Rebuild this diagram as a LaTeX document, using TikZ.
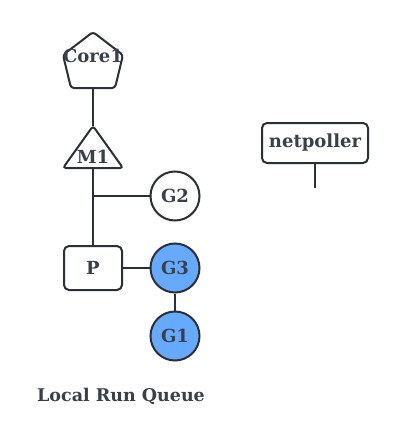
\documentclass[tikz,border=0pt]{standalone}
\usepackage{fontspec}
\setmainfont{DejaVu Serif}
\usetikzlibrary{positioning}
\definecolor{ink}{HTML}{2B2F36}
\definecolor{txt}{HTML}{3A404A}
\definecolor{gblue}{HTML}{66AAFF}
\tikzset{lblfont/.style={font=\bfseries\fontsize{18}{20}\selectfont}}
\begin{document}
\begin{tikzpicture}[x=1pt,y=-1pt,
  line/.style={draw=ink,line width=2pt},
  lbl/.style={text=txt,lblfont,inner sep=0pt},
  gor/.style={circle,draw=ink,line width=2pt,minimum size=49pt,inner sep=0pt,text=txt,lblfont},
  box/.style={rectangle,rounded corners=5pt,draw=ink,line width=2pt,text=txt,lblfont,inner sep=0pt}]
\useasboundingbox (0,0) rectangle (401,437);
\fill[white] (0,0) rectangle (401,437);
% pentagon Core1
\draw[line,rounded corners=3pt,fill=white] (93,32) -- (123,55) -- (115,88) -- (71,88) -- (63,55) -- cycle;
\node[lbl] (core) at (93,56) {Core1};
\coordinate (coreb) at (93,88);
% triangle M1
\draw[line,rounded corners=3pt,fill=white] (93,126) -- (123,168) -- (63,168) -- cycle;
\node[lbl] (m1) at (93,157) {M1};
\coordinate (m1t) at (93,126);
\coordinate (m1b) at (93,168);
\coordinate (jn) at (93,196);
\node[gor,fill=white] (g2) at (175,196) {G2};
\node[box,minimum width=58pt,minimum height=44pt] (p) at (93,268) {P};
\node[gor,fill=gblue] (g3) at (175,268) {G3};
\node[gor,fill=gblue] (g1) at (175,336) {G1};
\node[box,minimum width=106pt,minimum height=40pt] (np) at (315,143) {netpoller};
\coordinate (npe) at (315,188);
\node[lbl,font=\bfseries\fontsize{17.5}{20}\selectfont] (lrq) at (121,396) {Local Run Queue};
\draw[line] (coreb) -- (m1t);
\draw[line] (m1b) -- (p.north);
\draw[line] (jn) -- (g2.west);
\draw[line] (p.east) -- (g3.west);
\draw[line] (g3.south) -- (g1.north);
\draw[line] (np.south) -- (npe);
\end{tikzpicture}
\end{document}
